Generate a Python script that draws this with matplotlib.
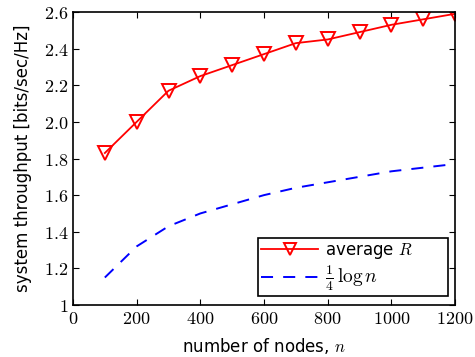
import matplotlib
matplotlib.use('Agg')
import matplotlib.pyplot as plt

plt.rcParams['mathtext.fontset'] = 'cm'
plt.rcParams['font.family'] = 'DejaVu Sans'

# data
n_nodes = [100, 200, 300, 400, 500, 600, 700, 800, 900, 1000, 1100, 1200]
avg_R = [1.83, 2.00, 2.17, 2.25, 2.31, 2.37, 2.43, 2.45, 2.49, 2.53, 2.56, 2.59]
quarter_log = [1.15, 1.32, 1.43, 1.50, 1.55, 1.60, 1.64, 1.67, 1.70, 1.73, 1.75, 1.77]

xticks = [0, 200, 400, 600, 800, 1000, 1200]
yticks = [1, 1.2, 1.4, 1.6, 1.8, 2.0, 2.2, 2.4, 2.6]
ytick_labels = ['1', '1.2', '1.4', '1.6', '1.8', '2.0', '2.2', '2.4', '2.6']

fig = plt.figure(figsize=(4.75, 3.57), dpi=100)
ax = fig.add_axes([73/475, 1-305/357, (455-73)/475, (305-12)/357])

ax.plot(n_nodes, avg_R, color='red', lw=1.3, marker='v', markersize=10,
        markerfacecolor='none', markeredgecolor='red', markeredgewidth=1.4,
        label='average $R$')
ax.plot(n_nodes, quarter_log, color='blue', lw=1.4, linestyle=(0, (6.2, 5.2)),
        label=r'$\frac{1}{4}\,\log n$')

ax.set_xlim(0, 1200)
ax.set_ylim(1, 2.6)
ax.set_xticks(xticks)
ax.set_xticklabels(['$%d$' % t for t in xticks])
ax.set_yticks(yticks)
ax.set_yticklabels(['$%s$' % t for t in ytick_labels])
ax.tick_params(direction='in', top=True, right=True, labelsize=13, length=4)
for s in ax.spines.values():
    s.set_linewidth(1.2)

ax.set_xlabel('number of nodes, $n$', fontsize=12, labelpad=5.5)
ax.set_ylabel('system throughput [bits/sec/Hz]', fontsize=12, labelpad=8)

# box stretched to the width seen in the reference
leg = ax.legend(loc='lower left', bbox_to_anchor=(0.484, 0.031, 0.497, 0.18),
                mode='expand', borderaxespad=0, fontsize=12, fancybox=False,
                edgecolor='black', framealpha=1, handlelength=3.4,
                handletextpad=0.4, labelspacing=0.1, borderpad=0.2,
                markerscale=0.8)
leg.get_frame().set_linewidth(1.2)
leg.get_texts()[1].set_fontsize(14)

fig.savefig('out.png', dpi=100)
